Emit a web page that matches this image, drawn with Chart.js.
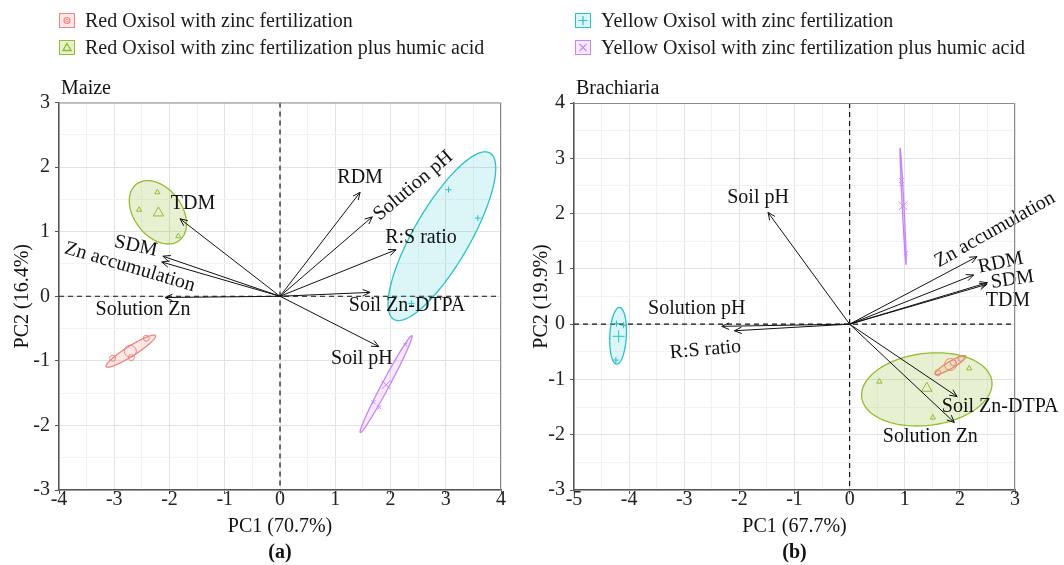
<!DOCTYPE html>
<html><head><meta charset="utf-8">
<script src="https://cdn.jsdelivr.net/npm/chart.js@4.4.0/dist/chart.umd.min.js"></script>
<style>
html,body{margin:0;padding:0;background:#fff;}
#wrap{position:relative;width:1064px;height:565px;overflow:hidden;font-family:"Liberation Serif","Times New Roman",serif;color:#1a1a1a;}
canvas{position:absolute;top:0;}
#chartA{left:0;}
#chartB{left:528px;}
.leg{position:absolute;font-size:20px;line-height:22px;height:22px;white-space:nowrap;display:flex;align-items:center;}
.leg svg{margin-right:10px;flex:none;}
</style></head>
<body><div id="wrap">
<canvas id="chartA" width="528" height="565"></canvas>
<canvas id="chartB" width="536" height="565"></canvas>
</div>
<script>
// ---------------- DATA ----------------
const groupNames = [
  'Red Oxisol with zinc fertilization',
  'Red Oxisol with zinc fertilization plus humic acid',
  'Yellow Oxisol with zinc fertilization',
  'Yellow Oxisol with zinc fertilization plus humic acid'
];

// Maize (a)
const maizeVariables = ['TDM','SDM','Zn accumulation','Solution Zn','RDM','Solution pH','R:S ratio','Soil Zn-DTPA','Soil pH'];
const maizeLoadPC1 = [-1.81,-2.12,-2.14,-2.08,1.45,1.67,2.10,1.63,1.79];
const maizeLoadPC2 = [1.20,0.62,0.53,-0.02,1.61,1.23,0.72,0.06,-0.78];
const maizeScorePC1 = [[-3.03,-2.42,-2.69],[-2.22,-2.55,-1.84],[3.05,3.58,2.38],[1.69,1.80,2.27]];
const maizeScorePC2 = [[-0.96,-0.65,-0.95],[1.61,1.34,0.93],[1.65,1.21,-0.11],[-1.64,-1.72,-0.75]];
const maizeCentroidPC1 = [-2.71,-2.20,null,1.92];
const maizeCentroidPC2 = [-0.85,1.29,null,-1.37];
const maizeEllipseCenter = [[-2.70,-0.85],[-2.21,1.30],[2.93,0.93],[1.92,-1.36]];
const maizeEllipseAxisA = [[0.445,0.24],[0.386,-0.437],[0.870,1.288],[0.467,0.749]];
const maizeEllipseAxisB = [[0.048,-0.066],[0.345,0.223],[0.440,-0.218],[0.060,-0.027]];

// Brachiaria (b)
const brachVariables = ['Soil pH','Solution pH','R:S ratio','Zn accumulation','RDM','SDM','TDM','Soil Zn-DTPA','Solution Zn'];
const brachLoadPC1 = [-1.48,-2.32,-2.09,2.31,2.25,2.50,2.49,1.95,1.90];
const brachLoadPC2 = [2.02,-0.04,-0.12,1.22,0.89,0.75,0.72,-1.31,-1.78];
const brachScorePC1 = [[1.60,2.02,1.88],[0.54,2.17,1.51],[-4.10,-4.23,-4.24],[0.94,0.94,1.02]];
const brachScorePC2 = [[-0.88,-0.62,-0.70],[-1.04,-0.80,-1.69],[-0.02,0.01,-0.65],[2.60,2.53,1.28]];
const brachCentroidPC1 = [1.83,1.40,-4.19,0.97];
const brachCentroidPC2 = [-0.73,-1.16,-0.22,2.14];
const brachEllipseCenter = [[1.83,-0.74],[1.40,-1.18],[-4.20,-0.21],[0.97,2.13]];
const brachEllipseAxisA = [[0.278,0.163],[1.18,0.145],[0.024,0.512],[-0.054,1.05]];
const brachEllipseAxisB = [[0.032,-0.055],[0.08,-0.646],[0.15,0.0],[0.016,0.001]];

const maizeTicksX = [-4,-3,-2,-1,0,1,2,3,4];
const maizeTicksY = [-3,-2,-1,0,1,2,3];
const brachTicksX = [-5,-4,-3,-2,-1,0,1,2,3];
const brachTicksY = [-3,-2,-1,0,1,2,3,4];

// ---------------- STYLE ----------------
const FONT = '"Liberation Serif","Times New Roman",serif';
const groupColors = ['#F4837B','#93BC2E','#28C2C6','#C785F8'];
const groupFill = ['rgba(244,131,123,0.18)','rgba(147,188,46,0.22)','rgba(40,194,198,0.16)','rgba(199,133,248,0.18)'];
const groupMarkers = ['circle','triangle','cross','crossRot'];

// label placement (pixel offset from arrow tip, rotation deg)
const maizeLabelPlace = {
  'TDM':[13,-15,0], 'SDM':[-27,-10,12], 'Zn accumulation':[-32,5,16.5], 'Solution Zn':[-22,12,0],
  'RDM':[0,-15,0], 'Solution pH':[41,-31,-40], 'R:S ratio':[25,-12,0], 'Soil Zn-DTPA':[37,13,0], 'Soil pH':[-17,12,0]
};
const brachLabelPlace = {
  'Soil pH':[-10,-15,0], 'Solution pH':[-25,-18,0], 'R:S ratio':[-29,19,-5], 'Zn accumulation':[18,-27,-29.5],
  'RDM':[27,-12,-12], 'SDM':[25,-3,-8], 'TDM':[21,16,0], 'Soil Zn-DTPA':[43,10,0], 'Solution Zn':[-24,14,0]
};

Chart.defaults.font.family = FONT;

const panels = {
  chartA: {title:'Maize', tag:'(a)', ellC:maizeEllipseCenter, ellA:maizeEllipseAxisA, ellB:maizeEllipseAxisB,
           vars:maizeVariables, place:maizeLabelPlace},
  chartB: {title:'Brachiaria', tag:'(b)', ellC:brachEllipseCenter, ellA:brachEllipseAxisA, ellB:brachEllipseAxisB,
           vars:brachVariables, place:brachLabelPlace}
};

const biplotPlugin = {
  id:'biplot',
  beforeDatasetsDraw(chart){
    const P = panels[chart.canvas.id];
    const {ctx, chartArea:a, scales:{x,y}} = chart;
    ctx.save();
    ctx.beginPath(); ctx.rect(a.left,a.top,a.right-a.left,a.bottom-a.top); ctx.clip();
    // zero reference lines
    ctx.strokeStyle = '#111'; ctx.lineWidth = 1.2; ctx.setLineDash([5,4]);
    const x0 = x.getPixelForValue(0), y0 = y.getPixelForValue(0);
    ctx.beginPath(); ctx.moveTo(x0,a.top); ctx.lineTo(x0,a.bottom); ctx.moveTo(a.left,y0); ctx.lineTo(a.right,y0); ctx.stroke();
    ctx.setLineDash([]);
    // concentration ellipses
    for (let g = 0; g < 4; g++) {
      const c = P.ellC[g], u = P.ellA[g], v = P.ellB[g];
      ctx.beginPath();
      const N = 144;
      for (let k = 0; k <= N; k++) {
        const t = 2*Math.PI*k/N, ct = Math.cos(t), st = Math.sin(t);
        const px = x.getPixelForValue(c[0] + ct*u[0] + st*v[0]);
        const py = y.getPixelForValue(c[1] + ct*u[1] + st*v[1]);
        if (k) ctx.lineTo(px,py); else ctx.moveTo(px,py);
      }
      ctx.closePath();
      ctx.fillStyle = groupFill[g]; ctx.fill();
      ctx.strokeStyle = groupColors[g]; ctx.lineWidth = 1.3; ctx.stroke();
    }
    ctx.restore();
  },
  afterDatasetsDraw(chart){
    const P = panels[chart.canvas.id];
    const {ctx} = chart;
    ctx.save();
    chart.data.datasets.forEach((ds, i) => {
      if (!ds.isArrow) return;
      const meta = chart.getDatasetMeta(i);
      const p0 = meta.data[0], p1 = meta.data[1];
      const ang = Math.atan2(p1.y - p0.y, p1.x - p0.x);
      const L = 8, spread = 0.42;
      ctx.strokeStyle = '#111'; ctx.lineWidth = 1;
      ctx.beginPath();
      ctx.moveTo(p1.x - L*Math.cos(ang-spread), p1.y - L*Math.sin(ang-spread));
      ctx.lineTo(p1.x, p1.y);
      ctx.lineTo(p1.x - L*Math.cos(ang+spread), p1.y - L*Math.sin(ang+spread));
      ctx.stroke();
      const pl = P.place[ds.label] || [0,0,0];
      ctx.save();
      ctx.translate(p1.x + pl[0], p1.y + pl[1]);
      ctx.rotate(pl[2]*Math.PI/180);
      ctx.font = '20px ' + FONT; ctx.fillStyle = '#111';
      ctx.textAlign = 'center'; ctx.textBaseline = 'middle';
      ctx.fillText(ds.label, 0, 0);
      ctx.restore();
    });
    ctx.restore();
  },
  afterDraw(chart){
    const P = panels[chart.canvas.id];
    const {ctx, chartArea:a} = chart;
    ctx.save();
    ctx.strokeStyle = '#8c8c8c'; ctx.lineWidth = 1;
    ctx.beginPath(); ctx.moveTo(a.left, a.top+0.5); ctx.lineTo(a.right-0.5, a.top+0.5); ctx.lineTo(a.right-0.5, a.bottom); ctx.stroke();
    ctx.fillStyle = '#111'; ctx.textBaseline = 'middle';
    ctx.font = '20px ' + FONT; ctx.textAlign = 'left';
    ctx.fillText(P.title, a.left + 2, a.top - 14);
    ctx.font = 'bold 20px ' + FONT; ctx.textAlign = 'center';
    ctx.fillText(P.tag, (a.left + a.right)/2, 553);
    ctx.restore();
  }
};

function buildDatasets(vars, l1, l2, s1, s2, c1, c2) {
  const ds = [];
  vars.forEach((name, i) => {
    ds.push({label:name, isArrow:true, data:[{x:0,y:0},{x:l1[i],y:l2[i]}], showLine:true,
      borderColor:'#111', borderWidth:1, pointRadius:0, fill:false});
  });
  for (let g = 0; g < 4; g++) {
    const pts = s1[g].map((v,k) => ({x:v, y:s2[g][k]}));
    const radii = pts.map(() => 3);
    if (c1[g] !== null) { pts.push({x:c1[g], y:c2[g]}); radii.push(6); }
    ds.push({label:groupNames[g], data:pts, showLine:false, pointStyle:groupMarkers[g],
      pointRadius:radii, pointBorderColor:groupColors[g], pointBackgroundColor:'rgba(0,0,0,0)',
      pointBorderWidth:1});
  }
  return ds;
}

function axis(min, max, majors, title, opts) {
  return {
    type:'linear', min, max, position:opts.pos,
    afterBuildTicks: s => { const t = []; for (let v = min; v <= max + 1e-9; v += 0.5) t.push({value: Math.round(v*2)/2}); s.ticks = t; },
    ticks:{ autoSkip:false, maxRotation:0, color:'#222', font:{size:20, family:FONT, lineHeight:1.2},
      padding:opts.tickPad,
      callback: v => majors.includes(v) ? String(v) : '' },
    grid:{ color: c => (c.tick && Number.isInteger(c.tick.value)) ? '#e2e2e2' : '#f2f2f2',
      tickColor: c => (c.tick && Number.isInteger(c.tick.value)) ? '#555' : 'rgba(0,0,0,0)',
      tickLength:4, lineWidth:1 },
    border:{ display:true, color:'#555', width:1.5 },
    title:{ display:true, text:title, color:'#111', font:{size:20, family:FONT, lineHeight:1.2}, padding:opts.titlePad },
    afterFit: s => { if (opts.pos === 'bottom') s.height = opts.size; else s.width = opts.size; }
  };
}

function makeChart(id, xr, yr, xt, yt, xTitle, yTitle, ds, yw, yTitlePad, pad) {
  return new Chart(document.getElementById(id), {
    type:'scatter',
    data:{ datasets: ds },
    options:{
      responsive:false, animation:false, events:[],
      layout:{ padding: pad },
      plugins:{ legend:{display:false}, tooltip:{enabled:false} },
      scales:{
        x: axis(xr[0], xr[1], xt, xTitle, {pos:'bottom', size:75, tickPad:-6, titlePad:{top:0,bottom:26}}),
        y: axis(yr[0], yr[1], yt, yTitle, {pos:'left', size:yw, tickPad:5, titlePad:{top:yTitlePad,bottom:0}})
      }
    },
    plugins:[biplotPlugin]
  });
}

makeChart('chartA', [-4,4], [-3,3], maizeTicksX, maizeTicksY, 'PC1 (70.7%)', 'PC2 (16.4%)',
  buildDatasets(maizeVariables, maizeLoadPC1, maizeLoadPC2, maizeScorePC1, maizeScorePC2, maizeCentroidPC1, maizeCentroidPC2),
  59, 11, {top:102.5, right:27, bottom:0, left:0});
makeChart('chartB', [-5,3], [-3,4], brachTicksX, brachTicksY, 'PC1 (67.7%)', 'PC2 (19.9%)',
  buildDatasets(brachVariables, brachLoadPC1, brachLoadPC2, brachScorePC1, brachScorePC2, brachCentroidPC1, brachCentroidPC2),
  46, 2, {top:103, right:49, bottom:0, left:0});

// ---------------- LEGEND ----------------
function markerSVG(g) {
  const c = groupColors[g];
  let m = '';
  if (g === 0) m = `<circle cx="8" cy="7.5" r="3" fill="none" stroke="${c}" stroke-width="1.2"/><circle cx="8" cy="7.5" r="1.3" fill="none" stroke="${c}" stroke-width="1"/>`;
  if (g === 1) m = `<polygon points="8,3.5 12,10.5 4,10.5" fill="none" stroke="${c}" stroke-width="1.4"/>`;
  if (g === 2) m = `<path d="M8 3 V12 M3.5 7.5 H12.5" stroke="${c}" stroke-width="1.2"/>`;
  if (g === 3) m = `<path d="M4.5 4 L11.5 11 M11.5 4 L4.5 11" stroke="${c}" stroke-width="1.1"/>`;
  return `<svg width="16" height="15" viewBox="0 0 16 15"><rect x="0.5" y="0.5" width="15" height="14" fill="${groupFill[g]}" stroke="${c}" stroke-width="1"/>${m}</svg>`;
}
const legPos = [[59,9],[59,36],[575,9],[575,36]];
const wrap = document.getElementById('wrap');
groupNames.forEach((name, g) => {
  const d = document.createElement('div');
  d.className = 'leg';
  d.style.left = legPos[g][0] + 'px';
  d.style.top = legPos[g][1] + 'px';
  d.innerHTML = markerSVG(g) + '<span>' + name + '</span>';
  wrap.appendChild(d);
});
</script>
</body></html>
